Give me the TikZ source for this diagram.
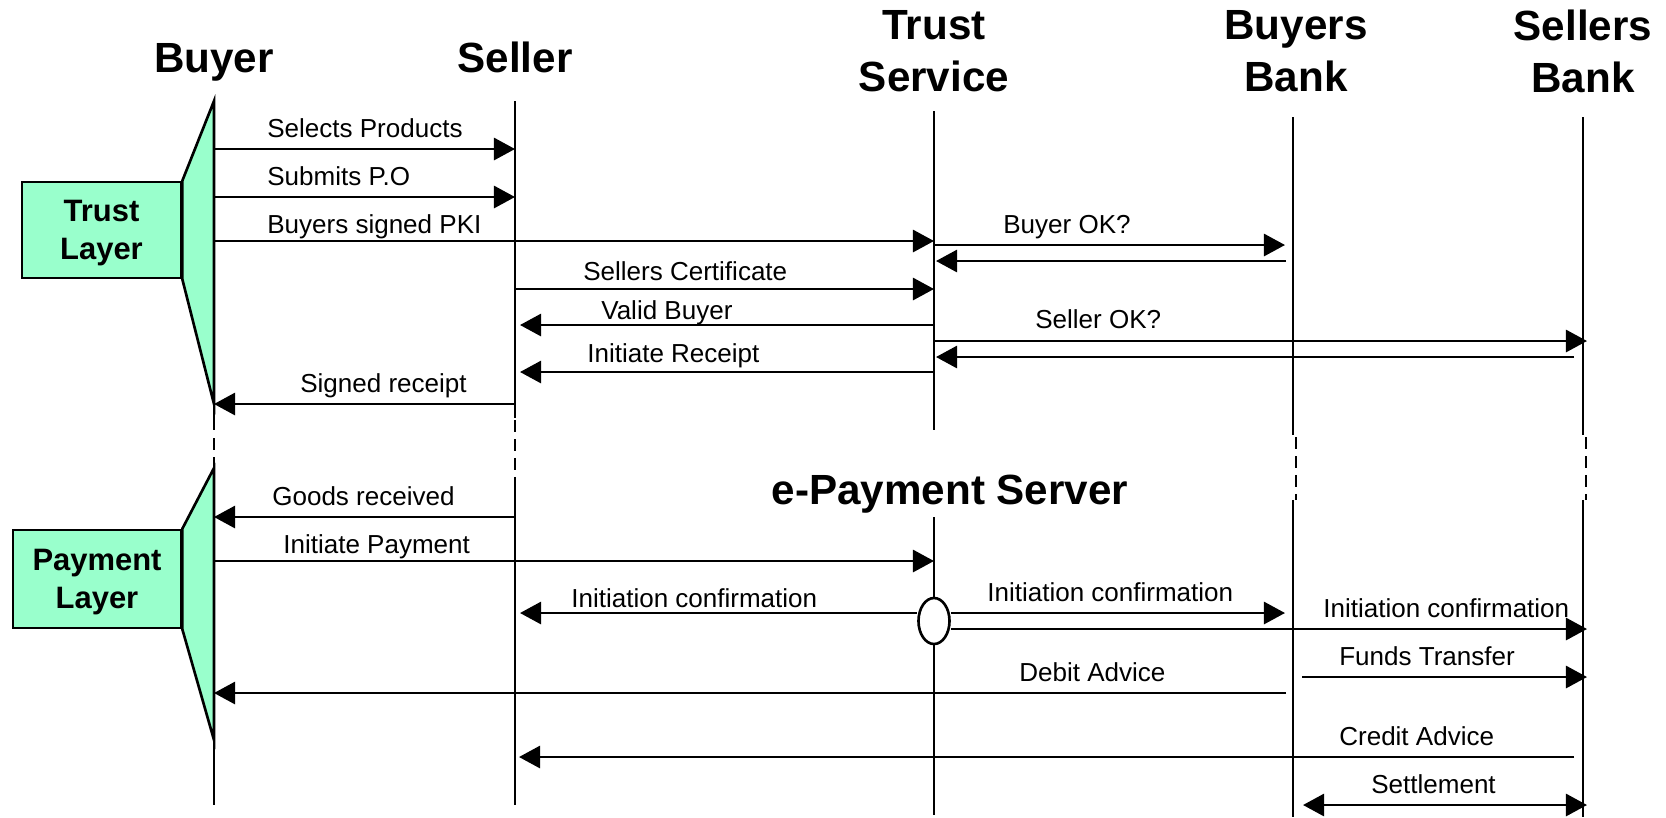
\documentclass[tikz,border=0pt]{standalone}
\usepackage{fontspec}
\setmainfont{Liberation Sans}
\usepackage{tikz}
\usetikzlibrary{arrows.meta,shapes.geometric}
\definecolor{layergreen}{RGB}{153,255,204}

\begin{document}
\begin{tikzpicture}[x=0.01cm, y=-0.01cm, line width=0.75pt,
		>={Triangle[length=6pt,width=6.3pt]},
		head/.style={font=\fontsize{12}{14.8}\selectfont\bfseries, align=center, inner sep=0},
		lbl/.style={font=\fontsize{7.4}{8.9}\selectfont, anchor=base west, inner sep=0},
		layer/.style={draw, fill=layergreen, font=\fontsize{8.8}{10.8}\selectfont\bfseries,
			align=center, inner sep=0, text depth=0pt},
		broken/.style={dash pattern=on 3.4pt off 2pt}]
			\useasboundingbox (0,0) rectangle (1666,817);
			% участники
			\node [head, anchor=base] (buyer) at (214,72) {Buyer};
			\node [head, anchor=base] (seller) at (515,72) {Seller};
			\node [head] (trust) at (934,51) {Trust\\Service};
			\node [head] (bbank) at (1296,51) {Buyers\\Bank};
			\node [head] (sbank) at (1583,51) {Sellers\\Bank};
			\node [head, anchor=base] (server) at (950,504) {e-Payment Server};
			% уровни
			\node [layer, minimum width=1.59cm, minimum height=0.96cm] (tlayer) at (101.5,230) {Trust\\Layer};
			\node [layer, minimum width=1.68cm, minimum height=0.98cm] (player) at (97,579) {Payment\\Layer};
			\draw [fill=layergreen] (tlayer.north east) -- (214,101) -- (214,404) -- (tlayer.south east) -- cycle;
			\draw [fill=layergreen] (player.north east) -- (214,468) -- (214,740) -- (player.south east) -- cycle;
			% линии жизни
			\coordinate (bu) at (214,100);
			\coordinate (se) at (515,101);
			\coordinate (ts) at (934,111);
			\coordinate (bb) at (1293,117);
			\coordinate (sb) at (1583,117);
			\draw (bu) -- (214,430);
			\draw [broken] (214,438) -- (214,468);
			\draw (214,468) -- (214,805);
			\draw (se) -- (515,418);
			\draw [broken] (515,420) -- (515,487);
			\draw (515,487) -- (515,805);
			\draw (ts) -- (934,430);
			\draw (934,517) -- (934,815);
			\draw (bb) -- (1293,435);
			\draw [broken] (1296,437) -- (1296,500);
			\draw (1293,500) -- (1293,817);
			\draw (sb) -- (1583,435);
			\draw [broken] (1586,437) -- (1586,500);
			\draw (1583,500) -- (1583,817);
			\node [draw, fill=white, ellipse, minimum width=0.31cm, minimum height=0.46cm, inner sep=0] (hub) at (934,621) {};
			% сообщения
			\path (0,149) coordinate (r1) (0,197) coordinate (r2) (0,241) coordinate (r3)
				(0,245) coordinate (r4) (0,261) coordinate (r5) (0,289) coordinate (r6)
				(0,325) coordinate (r7) (0,341) coordinate (r8) (0,357) coordinate (r9)
				(0,372) coordinate (r10) (0,404) coordinate (r11) (0,517) coordinate (r12)
				(0,561) coordinate (r13) (0,613) coordinate (r14) (0,629) coordinate (r15)
				(0,677) coordinate (r16) (0,693) coordinate (r17) (0,757) coordinate (r18)
				(0,805) coordinate (r19);
			\draw [->] (bu |- r1) -- (se |- r1);
			\draw [->] (bu |- r2) -- (se |- r2);
			\draw [->] (bu |- r3) -- (ts |- r3);
			\draw [->, shorten >=0.08cm] (ts |- r4) -- (bb |- r4);
			\draw [->, shorten <=0.07cm, shorten >=0.02cm] (bb |- r5) -- (ts |- r5);
			\draw [->] (se |- r6) -- (ts |- r6);
			\draw [->, shorten >=0.05cm] (ts |- r7) -- (se |- r7);
			\draw [->, shorten >=-0.04cm] (ts |- r8) -- (sb |- r8);
			\draw [->, shorten <=0.09cm, shorten >=0.02cm] (sb |- r9) -- (ts |- r9);
			\draw [->, shorten >=0.05cm] (ts |- r10) -- (se |- r10);
			\draw [->] (se |- r11) -- (bu |- r11);
			\draw [->] (se |- r12) -- (bu |- r12);
			\draw [->] (bu |- r13) -- (ts |- r13);
			\draw [->, shorten >=0.05cm] (hub.west |- r14) -- (se |- r14);
			\draw [->, shorten >=0.08cm] (hub.east |- r14) -- (bb |- r14);
			\draw [->, shorten >=-0.04cm] (hub.east |- r15) -- (sb |- r15);
			\draw [->, shorten <=0.09cm, shorten >=-0.04cm] (bb |- r16) -- (sb |- r16);
			\draw [->, shorten <=0.07cm] (bb |- r17) -- (bu |- r17);
			\draw [->, shorten <=0.09cm, shorten >=0.04cm] (sb |- r18) -- (se |- r18);
			\draw [<->, shorten <=0.1cm, shorten >=-0.04cm] (bb |- r19) -- (sb |- r19);
			% подписи
			\node [lbl] (sel) at (266,137) {Selects Products};
			\node [lbl] (po) at (266,185) {Submits P.O};
			\node [lbl] (pki) at (266,233) {Buyers signed PKI};
			\node [lbl] (bok) at (1002,233) {Buyer OK?};
			\node [lbl] (cert) at (582,280) {Sellers Certificate};
			\node [lbl] (valid) at (600,319) {Valid Buyer};
			\node [lbl] (sok) at (1034,328) {Seller OK?};
			\node [lbl] (irc) at (586,362) {Initiate Receipt};
			\node [lbl] (src) at (299,392) {Signed receipt};
			\node [lbl] (goods) at (271,505) {Goods received};
			\node [lbl] (ipay) at (282,553) {Initiate Payment};
			\node [lbl] (conf1) at (570,607) {Initiation confirmation};
			\node [lbl] (conf2) at (986,601) {Initiation confirmation};
			\node [lbl] (conf3) at (1322,617) {Initiation confirmation};
			\node [lbl] (funds) at (1338,665) {Funds Transfer};
			\node [lbl] (debit) at (1018,681) {Debit Advice};
			\node [lbl] (credit) at (1338,745) {Credit Advice};
			\node [lbl] (settle) at (1370,793) {Settlement};
\end{tikzpicture}
\end{document}
